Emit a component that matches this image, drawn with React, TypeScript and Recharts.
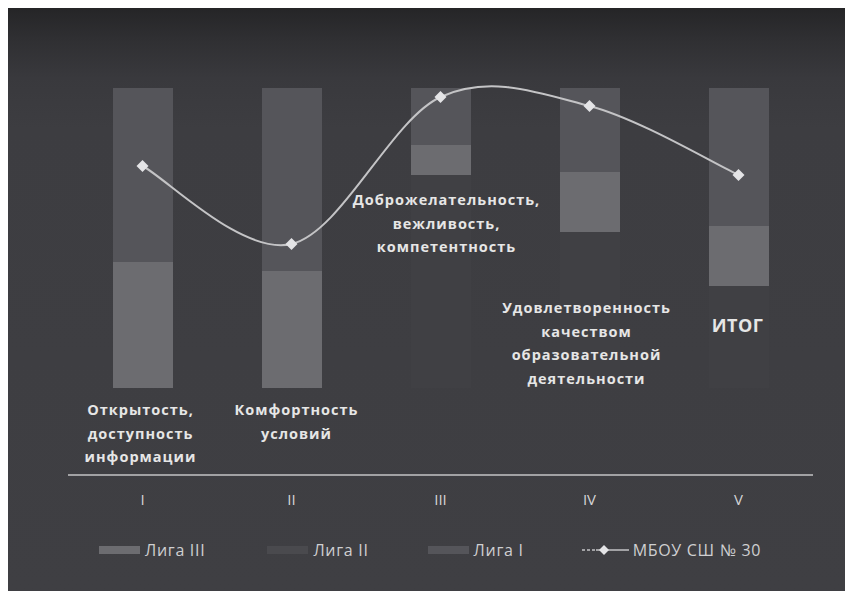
import React from "react";
import {
  ComposedChart,
  Bar,
  Line,
  XAxis,
  YAxis,
  Legend,
  ReferenceDot,
} from "recharts";

// criteria numbers on the x axis
const categories = ["I", "II", "III", "IV", "V"];

// stacked league zones (bottom to top)
const ligaII = [0, 0, 71, 52, 34];
const ligaIII = [42, 39, 10, 20, 20];
const ligaI = [58, 61, 19, 28, 46];

// school result
const school = [74, 48, 97, 94, 71];

// in-plot captions for every criterion
const criteriaLines = [
  ["Открытость,", "доступность", "информации"],
  ["Комфортность", "условий"],
  ["Доброжелательность,", "вежливость,", "компетентность"],
  ["Удовлетворенность", "качеством", "образовательной", "деятельности"],
  ["ИТОГ"],
];
// value where the first caption line sits, and a small horizontal nudge
const criteriaAnchor = [-7, -7, 63, 27, 21];
const criteriaDx = [-2, 5, 6, -3, -1];

const COLORS = {
  ligaIII: "#6c6c70",
  ligaII: "#404044",
  ligaI: "#55555a",
  line: "#c4c4c6",
  marker: "#e4e4e6",
  text: "#e6e6e6",
  axis: "#a2a2a4",
};

const FONT = "'Open Sans', 'DejaVu Sans', sans-serif";

const data = categories.map((c, i) => ({
  name: c,
  ligaII: ligaII[i],
  ligaIII: ligaIII[i],
  ligaI: ligaI[i],
  school: school[i],
}));

// Excel-style smoothed line (Catmull-Rom turned into bezier segments)
function excelSmooth(context: any) {
  let pts: number[][] = [];
  return {
    areaStart() {},
    areaEnd() {},
    lineStart() {
      pts = [];
    },
    point(x: number, y: number) {
      pts.push([+x, +y]);
    },
    lineEnd() {
      if (!pts.length) return;
      context.moveTo(pts[0][0], pts[0][1]);
      for (let i = 0; i < pts.length - 1; i++) {
        const p0 = pts[i - 1] || pts[i];
        const p1 = pts[i];
        const p2 = pts[i + 1];
        const p3 = pts[i + 2] || p2;
        context.bezierCurveTo(
          p1[0] + (p2[0] - p0[0]) / 6,
          p1[1] + (p2[1] - p0[1]) / 6,
          p2[0] - (p3[0] - p1[0]) / 6,
          p2[1] - (p3[1] - p1[1]) / 6,
          p2[0],
          p2[1]
        );
      }
    },
  };
}

// diamond marker like the Excel one
function Diamond(props: any) {
  const { cx, cy } = props;
  if (cx == null || cy == null) return null;
  const r = 6;
  return (
    <polygon
      points={`${cx},${cy - r} ${cx + r},${cy} ${cx},${cy + r} ${cx - r},${cy}`}
      fill={COLORS.marker}
    />
  );
}

function CaptionLabel(props: any) {
  const { viewBox, idx } = props;
  if (!viewBox) return null;
  const lines = criteriaLines[idx];
  const big = idx === 4;
  const x = viewBox.x + criteriaDx[idx];
  return (
    <text
      x={x}
      y={viewBox.y}
      textAnchor="middle"
      dominantBaseline="central"
      fill={COLORS.text}
      fontFamily={FONT}
      fontWeight={700}
      fontSize={big ? 18 : 14.5}
      letterSpacing={big ? 0.5 : 1}
    >
      {lines.map((l, k) => (
        <tspan key={k} x={x} dy={k === 0 ? 0 : 23.5}>
          {l}
        </tspan>
      ))}
    </text>
  );
}

const legendItems = [
  { label: "Лига III", color: COLORS.ligaIII, kind: "bar", gap: 0 },
  { label: "Лига II", color: "#4a4a4e", kind: "bar", gap: 62 },
  { label: "Лига I", color: COLORS.ligaI, kind: "bar", gap: 59 },
  { label: "МБОУ СШ № 30", color: COLORS.line, kind: "line", gap: 58 },
];

function LegendContent() {
  return (
    <div
      style={{
        height: 56,
        display: "flex",
        alignItems: "flex-start",
        paddingTop: 5,
        paddingLeft: 31,
        boxSizing: "border-box",
        fontFamily: FONT,
        fontSize: 16,
        letterSpacing: 0.7,
        color: "#cfcfd1",
        whiteSpace: "nowrap",
      }}
    >
      {legendItems.map((it) => (
        <div
          key={it.label}
          style={{ display: "flex", alignItems: "center", marginLeft: it.gap, height: 20 }}
        >
          {it.kind === "bar" ? (
            <div style={{ width: 41, height: 8, background: it.color, marginRight: 5 }} />
          ) : (
            <svg width={47} height={12} style={{ marginRight: 4 }}>
              <line x1={0} y1={6} x2={14} y2={6} stroke={it.color} strokeWidth={1.5} strokeDasharray="3 2" />
              <line x1={14} y1={6} x2={47} y2={6} stroke={it.color} strokeWidth={1.5} />
              <polygon points="22,1 27,6 22,11 17,6" fill={COLORS.marker} />
            </svg>
          )}
          <span>{it.label}</span>
        </div>
      ))}
    </div>
  );
}

export default function App() {
  return (
    <div
      style={{
        position: "absolute",
        top: 8,
        left: 8,
        width: 837,
        height: 583,
        background:
          "linear-gradient(#252527 0px, #2f2f32 30px, #39393d 70px, #3d3d41 120px, #3f3f43 100%)",
      }}
    >
      <ComposedChart
        width={837}
        height={583}
        data={data}
        margin={{ top: 20, right: 32, left: 60, bottom: 0 }}
        barCategoryGap={0}
      >
        <XAxis
          dataKey="name"
          tickLine={false}
          axisLine={{ stroke: COLORS.axis, strokeWidth: 2 }}
          tick={{ fill: "#d4d4d6", fontSize: 15, fontFamily: FONT }}
          tickMargin={13}
          height={60}
        />
        <YAxis hide domain={[-29, 120]} allowDataOverflow />
        <Legend verticalAlign="bottom" content={<LegendContent />} />
        <Bar dataKey="ligaII" name="Лига II" stackId="a" fill={COLORS.ligaII} barSize={60} isAnimationActive={false} />
        <Bar dataKey="ligaIII" name="Лига III" stackId="a" fill={COLORS.ligaIII} barSize={60} isAnimationActive={false} />
        <Bar dataKey="ligaI" name="Лига I" stackId="a" fill={COLORS.ligaI} barSize={60} isAnimationActive={false} />
        <Line
          type={excelSmooth as any}
          dataKey="school"
          name="МБОУ СШ № 30"
          stroke={COLORS.line}
          strokeWidth={2}
          dot={<Diamond />}
          activeDot={false}
          isAnimationActive={false}
        />
        {categories.map((c, i) => (
          <ReferenceDot
            key={c}
            x={c}
            y={criteriaAnchor[i]}
            r={0}
            fill="none"
            stroke="none"
            label={<CaptionLabel idx={i} />}
          />
        ))}
      </ComposedChart>
    </div>
  );
}
